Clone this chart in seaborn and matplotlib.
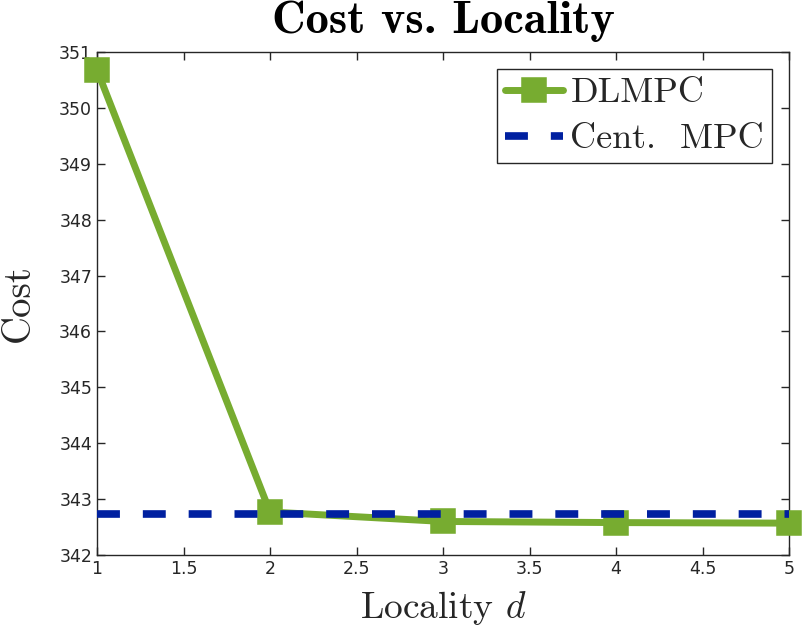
import matplotlib
matplotlib.use("Agg")
import matplotlib.pyplot as plt
import seaborn as sns
import pandas as pd

# Data
locality = [1, 2, 3, 4, 5]
dlmpc_cost = [350.68, 342.77, 342.60, 342.58, 342.57]
cent_mpc_cost = [342.74, 342.74, 342.74, 342.74, 342.74]
xticks = [1, 1.5, 2, 2.5, 3, 3.5, 4, 4.5, 5]
yticks = [342, 343, 344, 345, 346, 347, 348, 349, 350, 351]

sns.set_theme(style="white")
plt.rcParams['font.family'] = ['DejaVu Sans']
plt.rcParams['mathtext.fontset'] = 'cm'

df = pd.DataFrame({"Locality": locality, "DLMPC": dlmpc_cost, "Cent": cent_mpc_cost})

fig = plt.figure(figsize=(8.05, 6.32), dpi=100)
ax = fig.add_axes([97/805, 1-555/632, (789-97)/805, (555-52)/632])

sns.lineplot(data=df, x="Locality", y="DLMPC", ax=ax, color="#77AC30", linewidth=5,
             marker="s", markersize=15, markeredgewidth=4, markeredgecolor="#77AC30",
             label="DLMPC", zorder=3)
sns.lineplot(data=df, x="Locality", y="Cent", ax=ax, color="#0020A0", linewidth=5.5,
             label="Cent.  MPC", zorder=4)
ax.lines[1].set_dashes([3.0, 3.0])
for ln in ax.lines:
    ln.set_solid_joinstyle('round')
    ln.set_clip_on(False)

ax.set_xlim(1, 5)
ax.set_ylim(342, 351)
ax.set_xticks(xticks)
ax.set_xticklabels([f"{t:g}" for t in xticks])
ax.set_yticks(yticks)
ax.tick_params(direction="in", length=6, width=1, colors="#262626", labelsize=12.5,
               top=True, right=True, bottom=True, left=True, labeltop=False, labelright=False)
for s in ax.spines.values():
    s.set_color("#262626")
    s.set_linewidth(1)
    s.set_visible(True)

ax.set_title("Cost vs. Locality", family="cmb10", fontsize=33.5, pad=14, color="black")
ax.set_xlabel("Locality $d$", family="cmr10", fontsize=27, labelpad=8, color="#262626")
ax.set_ylabel("Cost", family="cmr10", fontsize=28, labelpad=16, color="#262626")

leg = ax.legend(loc="upper right", bbox_to_anchor=(772/805, 1-69/632), bbox_transform=fig.transFigure,
                prop={"family": "cmr10", "size": 26}, frameon=True, fancybox=False,
                handlelength=1.6, handletextpad=0.2, borderpad=0.22, labelspacing=0.38,
                borderaxespad=0)
leg.get_frame().set_edgecolor("#262626")
leg.get_frame().set_linewidth(1)
leg.get_frame().set_alpha(1)

fig.savefig("out.png", dpi=100)
